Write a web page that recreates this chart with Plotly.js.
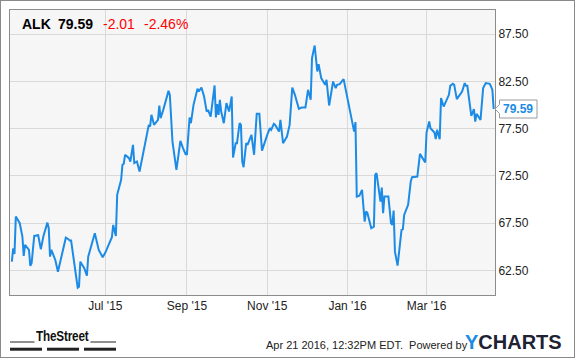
<!DOCTYPE html>
<html>
<head>
<meta charset="utf-8">
<script src="https://cdn.plot.ly/plotly-3.0.1.min.js"></script>
<style>
  html, body { margin: 0; padding: 0; background: #fff; }
  #wrap { position: relative; width: 575px; height: 358px; }
  #chart { width: 575px; height: 358px; }
  #frame { position: absolute; left: 0; top: 0; width: 575px; height: 358px; box-sizing: border-box; border: 1px solid #8a8a8a; pointer-events: none; }
  #street { position: absolute; left: 35.5px; top: 328px; font: bold 15px/15px Arial, 'Liberation Sans', sans-serif; color: #111; transform: scaleX(0.78); transform-origin: 0 0; white-space: nowrap; letter-spacing: -0.2px; }
</style>
</head>
<body>
<div id="wrap"><div id="chart"></div><div id="street">TheStreet</div><div id="frame"></div></div>
<script>
// ---- data ----
const ticker = "ALK";
const lastPrice = 79.59;
const change = "-2.01";
const changePct = "-2.46%";
const stamp = "Apr 21 2016, 12:32PM EDT.";

const dates = [
 "2015-04-21","2015-04-22","2015-04-23","2015-04-24","2015-04-27","2015-04-29","2015-04-30",
 "2015-05-01","2015-05-04","2015-05-05","2015-05-06","2015-05-08","2015-05-11","2015-05-13",
 "2015-05-15","2015-05-18","2015-05-19","2015-05-20","2015-05-21","2015-05-24","2015-05-26",
 "2015-05-28","2015-05-30","2015-06-01","2015-06-03","2015-06-04","2015-06-05","2015-06-08",
 "2015-06-10","2015-06-11","2015-06-12","2015-06-15","2015-06-17","2015-06-18","2015-06-20",
 "2015-06-23","2015-06-26","2015-06-29","2015-07-01","2015-07-03","2015-07-06","2015-07-07",
 "2015-07-09","2015-07-10","2015-07-13","2015-07-14","2015-07-15","2015-07-16","2015-07-19",
 "2015-07-20","2015-07-22","2015-07-23","2015-07-25","2015-07-27","2015-07-29","2015-07-30",
 "2015-08-01","2015-08-03","2015-08-04","2015-08-05","2015-08-07","2015-08-10","2015-08-11",
 "2015-08-12","2015-08-14","2015-08-17","2015-08-18","2015-08-19","2015-08-21","2015-08-24",
 "2015-08-27","2015-08-29","2015-08-31","2015-09-01","2015-09-03","2015-09-04","2015-09-06",
 "2015-09-09","2015-09-10","2015-09-12","2015-09-14","2015-09-16","2015-09-17","2015-09-19",
 "2015-09-21","2015-09-22","2015-09-23","2015-09-24","2015-09-25","2015-09-26","2015-09-27",
 "2015-09-29","2015-10-01","2015-10-03","2015-10-05","2015-10-06","2015-10-08","2015-10-09",
 "2015-10-11","2015-10-12","2015-10-13","2015-10-14","2015-10-16","2015-10-17","2015-10-20",
 "2015-10-22","2015-10-24","2015-10-26","2015-10-28","2015-10-30","2015-11-01","2015-11-03",
 "2015-11-04","2015-11-06","2015-11-07","2015-11-10","2015-11-11","2015-11-13","2015-11-16",
 "2015-11-18","2015-11-20","2015-11-22","2015-11-25","2015-11-27","2015-11-30","2015-12-02",
 "2015-12-04","2015-12-05","2015-12-07","2015-12-09","2015-12-10","2015-12-12","2015-12-15",
 "2015-12-16","2015-12-18","2015-12-21","2015-12-23","2015-12-24","2015-12-26","2015-12-29",
 "2016-01-01","2016-01-04","2016-01-06","2016-01-07","2016-01-08","2016-01-10","2016-01-12",
 "2016-01-14","2016-01-15","2016-01-16","2016-01-19","2016-01-21","2016-01-22","2016-01-23",
 "2016-01-25","2016-01-26","2016-01-27","2016-01-28","2016-01-29","2016-02-01","2016-02-03",
 "2016-02-04","2016-02-05","2016-02-06","2016-02-08","2016-02-10","2016-02-11","2016-02-12",
 "2016-02-13","2016-02-16","2016-02-18","2016-02-19","2016-02-23","2016-02-25","2016-02-29",
 "2016-03-01","2016-03-03","2016-03-04","2016-03-07","2016-03-08","2016-03-09","2016-03-11",
 "2016-03-12","2016-03-14","2016-03-16","2016-03-18","2016-03-19","2016-03-21","2016-03-22",
 "2016-03-24","2016-03-28","2016-03-30","2016-03-31","2016-04-01","2016-04-04","2016-04-06",
 "2016-04-07","2016-04-08","2016-04-11","2016-04-13","2016-04-15","2016-04-18","2016-04-19",
 "2016-04-20","2016-04-21"
];
const prices = [
 63.43,64.85,64.25,68.20,67.50,66.08,64.04,
 65.20,64.67,62.98,63.26,66.15,66.23,64.75,
 66.15,67.56,66.97,63.96,64.67,63.61,62.37,
 63.61,64.67,65.97,65.80,65.66,65.66,62.90,
 60.68,60.78,63.43,62.73,61.95,63.96,64.85,
 66.44,64.67,63.90,64.39,65.02,66.02,67.32,
 66.15,70.50,72.09,73.68,73.80,74.74,74.39,
 74.03,75.79,73.86,74.03,72.97,74.39,75.08,
 76.14,77.91,77.73,78.97,77.91,78.44,79.96,
 78.62,79.50,81.09,81.51,81.09,76.14,73.15,
 76.22,75.45,74.81,74.81,78.69,78.09,80.03,
 81.73,81.44,81.86,80.91,79.32,79.50,78.79,
 81.44,82.08,78.69,80.11,78.97,80.56,79.32,
 78.09,80.21,79.32,80.91,74.45,75.97,75.97,
 78.09,77.91,74.03,73.43,75.97,75.79,76.85,
 74.74,79.08,79.08,75.19,76.14,76.85,77.56,
 77.38,78.02,77.91,77.20,78.44,75.97,76.67,
 77.91,81.86,81.09,79.61,79.75,79.75,81.62,
 80.56,84.98,86.31,83.56,84.34,82.86,82.15,
 82.68,79.96,82.50,81.80,82.15,82.22,82.75,
 80.74,78.79,77.20,78.20,70.32,70.42,71.03,
 67.67,68.73,68.62,66.97,67.14,72.62,72.80,
 70.85,69.79,71.27,68.56,70.32,70.32,67.50,
 67.32,68.83,64.49,63.01,65.55,66.79,66.86,
 68.38,69.44,71.91,72.37,72.44,74.84,73.92,
 77.10,78.26,77.56,77.10,76.40,77.38,76.40,
 80.74,79.85,80.56,81.09,82.04,82.26,82.15,
 80.64,81.44,82.33,82.04,82.04,78.87,79.58,
 78.26,79.08,78.44,81.80,82.33,82.26,81.97,
 81.60,79.59
];
const xTickVals = ["2015-07-01","2015-09-01","2015-11-01","2016-01-01","2016-03-01"];
const xTickText = ["Jul '15","Sep '15","Nov '15","Jan '16","Mar '16"];
const yTickVals = [62.5, 67.5, 72.5, 77.5, 82.5, 87.5];

// ---- styling ----
const BLUE = "#1b8be6";
const FONT = "Arial, 'Liberation Sans', sans-serif";
const PLOT_W = 485, PLOT_H = 285;           // plot area size in px
const px2x = p => (p - 10) / PLOT_W;        // page px -> paper x
const px2y = p => (295 - p) / PLOT_H;       // page px -> paper y
const pxPerUnit = PLOT_H / (90.07 - 59.9);

const trace = {
  type: "scatter", mode: "lines", x: dates, y: prices,
  line: { color: BLUE, width: 2 }, hoverinfo: "skip"
};

const lastY = prices[prices.length - 1];
const halfBox = 9 / pxPerUnit, halfNotch = 4.5 / pxPerUnit;
const bx0 = 1 + 4.5 / PLOT_W, bx1 = 1 + 42 / PLOT_W;

const shapes = [
  // price callout
  { type: "path", xref: "paper", yref: "y", layer: "above",
    path: `M 1 ${lastY} L ${bx0} ${lastY + halfNotch} L ${bx0} ${lastY + halfBox} L ${bx1} ${lastY + halfBox} L ${bx1} ${lastY - halfBox} L ${bx0} ${lastY - halfBox} L ${bx0} ${lastY - halfNotch} Z`,
    fillcolor: "#ffffff", line: { color: "#9a9a9a", width: 1 } },
  // TheStreet logo rules
  { type: "line", xref: "paper", yref: "paper", x0: px2x(10), x1: px2x(34.5), y0: px2y(342), y1: px2y(342), line: { color: "#222", width: 1 } },
  { type: "line", xref: "paper", yref: "paper", x0: px2x(90.5), x1: px2x(116), y0: px2y(342), y1: px2y(342), line: { color: "#222", width: 1 } },
  { type: "rect", xref: "paper", yref: "paper", x0: px2x(10), x1: px2x(42), y0: px2y(350.7), y1: px2y(347.7), fillcolor: "#222", line: { width: 0 } },
  { type: "rect", xref: "paper", yref: "paper", x0: px2x(47), x1: px2x(79), y0: px2y(350.7), y1: px2y(347.7), fillcolor: "#222", line: { width: 0 } },
  { type: "rect", xref: "paper", yref: "paper", x0: px2x(84), x1: px2x(116), y0: px2y(350.7), y1: px2y(347.7), fillcolor: "#222", line: { width: 0 } }
];

function ann(text, xpx, ypx, size, color, extra) {
  return Object.assign({
    text: text, xref: "paper", yref: "paper", x: px2x(xpx), y: px2y(ypx),
    xanchor: "left", yanchor: "middle", showarrow: false, borderpad: 0,
    font: { family: FONT, size: size, color: color }
  }, extra || {});
}

const annotations = [
  ann("<b>" + ticker + "</b>", 20.5, 24, 14, "#000"),
  ann("<b>" + lastPrice.toFixed(2) + "</b>", 57.2, 24, 14, "#000"),
  ann(change, 102.2, 24, 14, "#ff0000"),
  ann(changePct, 142.8, 24, 14, "#ff0000"),
  { text: "<b>" + lastY.toFixed(2) + "</b>", xref: "paper", yref: "y",
    x: (bx0 + bx1) / 2, y: lastY, xanchor: "center", yanchor: "middle",
    showarrow: false, borderpad: 0, font: { family: FONT, size: 12, color: BLUE } },
  ann(stamp + " &nbsp;Powered by", 264.5, 345, 11, "#222"),
  ann("<b><span style='color:" + BLUE + "'>Y</span>CHARTS</b>", 463.5, 341.5, 20, "#1e2233")
];

const layout = {
  width: 575, height: 358,
  margin: { l: 10, r: 80, t: 10, b: 63, pad: 0 },
  paper_bgcolor: "#ffffff", plot_bgcolor: "#f6f6f6",
  showlegend: false,
  font: { family: FONT, size: 12, color: "#222" },
  xaxis: {
    type: "date", range: ["2015-04-19 14:00", "2016-04-22"],
    tickmode: "array", tickvals: xTickVals, ticktext: xTickText,
    showgrid: true, gridcolor: "#d9d9d9", gridwidth: 1,
    showline: true, linecolor: "#8c8c8c", linewidth: 1, mirror: true,
    ticks: "", zeroline: false, fixedrange: true,
    tickfont: { family: FONT, size: 12, color: "#222" }
  },
  yaxis: {
    range: [59.9, 90.07], side: "right",
    tickmode: "array", tickvals: yTickVals, ticktext: yTickVals.map(v => v.toFixed(2)),
    showgrid: true, gridcolor: "#d9d9d9", gridwidth: 1,
    showline: true, linecolor: "#8c8c8c", linewidth: 1, mirror: true,
    ticks: "", zeroline: false, fixedrange: true,
    tickfont: { family: FONT, size: 12, color: "#222" }
  },
  shapes: shapes,
  annotations: annotations
};

Plotly.newPlot("chart", [trace], layout, { staticPlot: true, displayModeBar: false });
</script>
</body>
</html>
